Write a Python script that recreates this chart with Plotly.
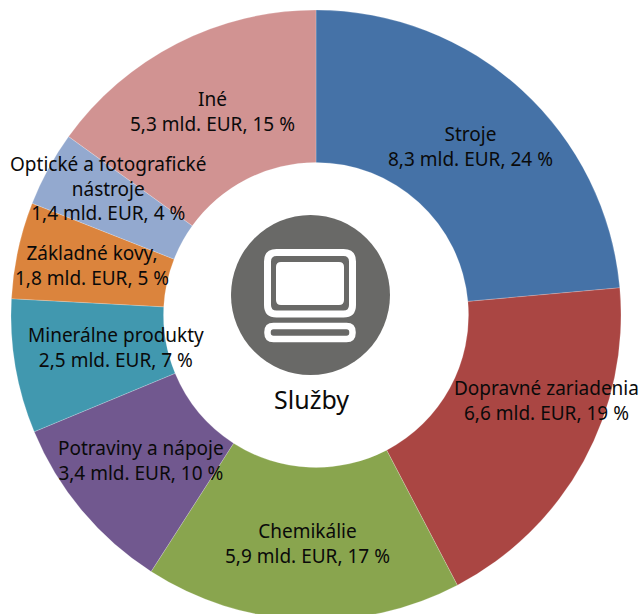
import plotly.graph_objects as go

categories = ["Stroje", "Dopravné zariadenia", "Chemikálie", "Potraviny a nápoje",
              "Minerálne produkty", "Základné kovy,", "Optické a fotografické<br>nástroje", "Iné"]
values = [8.3, 6.6, 5.9, 3.4, 2.5, 1.8, 1.4, 5.3]
shares = [24, 19, 17, 10, 7, 5, 4, 15]
colors = ["#4572A7", "#AA4643", "#89A54E", "#71588F", "#4198AF", "#DB843D", "#93A9CF", "#D19392"]
label_centres = [(470, 146), (546, 400), (307, 543), (141, 461),
                 (116, 347), (92, 265), (108, 188), (212, 111)]
centre_title = "Služby"

W, H = 640, 630
FONT = "Noto Sans"
INK = "#0a0a0a"
ICON = "#696967"


def px(x):
    return x / W


def py(y):
    return 1 - y / H


def rrect(x0, y0, x1, y1, r):
    a, b, c, d = px(x0), py(y0), px(x1), py(y1)
    rx, ry = r / W, r / H
    return (f"M{a+rx},{b} L{c-rx},{b} Q{c},{b} {c},{b-ry} L{c},{d+ry} Q{c},{d} {c-rx},{d} "
            f"L{a+rx},{d} Q{a},{d} {a},{d+ry} L{a},{b-ry} Q{a},{b} {a+rx},{b} Z")


fig = go.Figure(go.Pie(
    labels=categories, values=values, hole=0.5, sort=False, direction="clockwise", rotation=0,
    marker=dict(colors=colors, line=dict(color="rgba(255,255,255,0.5)", width=0.4)),
    textinfo="none", hoverinfo="label+value", showlegend=False,
    domain=dict(x=[px(11), px(621)], y=[py(620), py(10)]),
))

annotations = [
    dict(x=px(cx), y=py(cy), xref="paper", yref="paper", showarrow=False, xanchor="center", yanchor="middle",
         text=f"{c}<br>{str(v).replace('.', ',')} mld. EUR, {s} %",
         font=dict(family=FONT, size=19, color=INK))
    for c, v, s, (cx, cy) in zip(categories, values, shares, label_centres)
]
annotations.append(dict(x=px(311), y=py(399), xref="paper", yref="paper", showarrow=False,
                        xanchor="center", yanchor="middle", text=centre_title,
                        font=dict(family=FONT, size=25, color=INK)))

shapes = [
    dict(type="circle", xref="paper", yref="paper", x0=px(231), x1=px(390), y0=py(375), y1=py(215),
         fillcolor=ICON, line=dict(width=0)),
    dict(type="path", xref="paper", yref="paper", path=rrect(267.5, 252.5, 352.5, 314, 9),
         fillcolor="rgba(0,0,0,0)", line=dict(color="white", width=7)),
    dict(type="path", xref="paper", yref="paper", path=rrect(276, 262, 344, 305, 5),
         fillcolor="white", line=dict(width=0)),
    dict(type="path", xref="paper", yref="paper", path=rrect(267.5, 326, 352.5, 339, 6),
         fillcolor="rgba(0,0,0,0)", line=dict(color="white", width=6.5)),
]

fig.update_layout(width=W, height=H, margin=dict(l=0, r=0, t=0, b=0), paper_bgcolor="white",
                  annotations=annotations, shapes=shapes, showlegend=False)
fig.write_html("out.html", config=dict(displayModeBar=False),
               post_script="document.body.style.margin='0';document.documentElement.style.overflow='hidden';document.body.style.overflow='hidden';")
